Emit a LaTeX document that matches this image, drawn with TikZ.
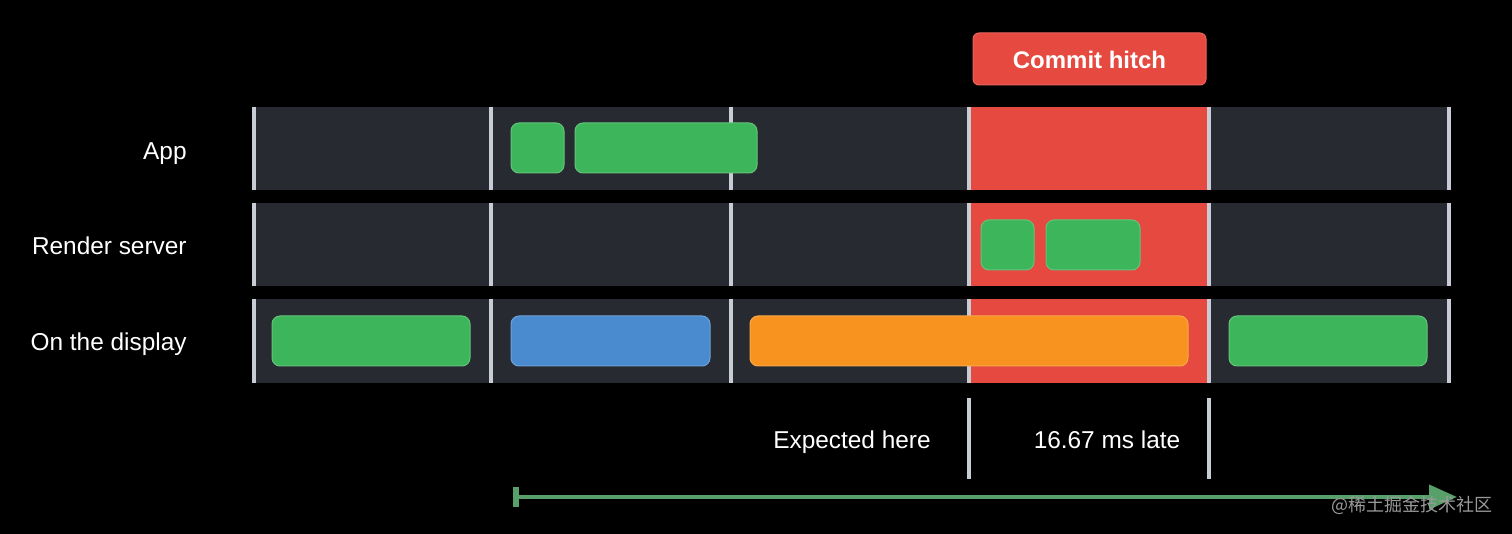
\documentclass[tikz,border=0pt]{standalone}
\usepackage{fontspec}
\setmainfont{Liberation Sans}
\newfontfamily\cjk{Noto Sans CJK SC}
\usepackage{xcolor}
\usepackage{tikz}
\usetikzlibrary{arrows.meta,positioning,calc}
\definecolor{rowbg}{HTML}{272B31}
\definecolor{divider}{HTML}{C8CDD5}
\definecolor{barGreen}{HTML}{3DB55A}
\definecolor{barBlue}{HTML}{4A8BD0}
\definecolor{barOrange}{HTML}{F7931E}
\definecolor{hitchRed}{HTML}{E5493F}
\definecolor{arrowGreen}{HTML}{58A06A}

\begin{document}
\begin{tikzpicture}[
    x=0.5pt, y=-0.5pt,
    lane/.style={fill=rowbg},
    hitch/.style={fill=hitchRed},
    tick/.style={draw=divider, line width=2pt},
    block/.style={rounded corners=4pt, line width=0.5pt},
    green block/.style={block, fill=barGreen, draw=barGreen!80!white},
    blue block/.style={block, fill=barBlue, draw=barBlue!80!white},
    orange block/.style={block, fill=barOrange, draw=barOrange!80!white},
    label/.style={text=white, font=\fontsize{12.2}{14}\selectfont, inner sep=0pt}
]
    \fill[black] (0,0) rectangle (1512,534);

    \fill[lane] (254,107) rectangle (1450,190);
    \fill[lane] (254,203) rectangle (1450,286);
    \fill[lane] (254,299) rectangle (1450,383);
    \fill[hitch] (969,107) rectangle (1209,190);
    \fill[hitch] (969,203) rectangle (1209,286);
    \fill[hitch] (969,299) rectangle (1209,383);
    \foreach \x in {254,491,731,969,1209,1449} {
        \draw[tick] (\x,107) -- (\x,190);
        \draw[tick] (\x,203) -- (\x,286);
        \draw[tick] (\x,299) -- (\x,383);
    }

    \node [label, anchor=mid east] (app) at (187,154) {App};
    \node [label, anchor=mid east] (render) at (187,249) {Render server};
    \node [label, anchor=mid east] (display) at (187,345) {On the display};

    \draw[green block] (511,123) rectangle (564,173);
    \draw[green block] (575,123) rectangle (757,173);
    \draw[green block] (981,220) rectangle (1034,270);
    \draw[green block] (1046,220) rectangle (1140,270);
    \draw[green block] (272,316) rectangle (470,366);
    \draw[blue block] (511,316) rectangle (710,366);
    \draw[orange block] (750,316) rectangle (1188,366);
    \draw[green block] (1229,316) rectangle (1427,366);

    \draw[hitch, draw=hitchRed!85!white, rounded corners=3pt, line width=0.5pt] (973,33) rectangle (1206,85);
    \node [label, anchor=mid, font=\fontsize{12}{14}\selectfont\bfseries] (commit) at (1089.5,63) {Commit hitch};

    \draw[tick] (969,398) -- (969,479);
    \draw[tick] (1209,398) -- (1209,479);
    \node [label, anchor=mid] (expected) at (852,443) {Expected here};
    \node [label, anchor=mid] (late) at (1107,443) {16.67 ms late};

    \coordinate (from) at (513,497);
    \coordinate (to) at (1457,497);
    \draw[arrowGreen, line width=2pt, {Bar[width=10pt,line width=3pt]}-{Triangle[length=14pt,width=12pt]}] (from) -- (to);

    \node [text=gray!80, font=\cjk\fontsize{9}{10}\selectfont, inner sep=0pt] (mark) at (1412,505) {@稀土掘金技术社区};
\end{tikzpicture}
\end{document}
